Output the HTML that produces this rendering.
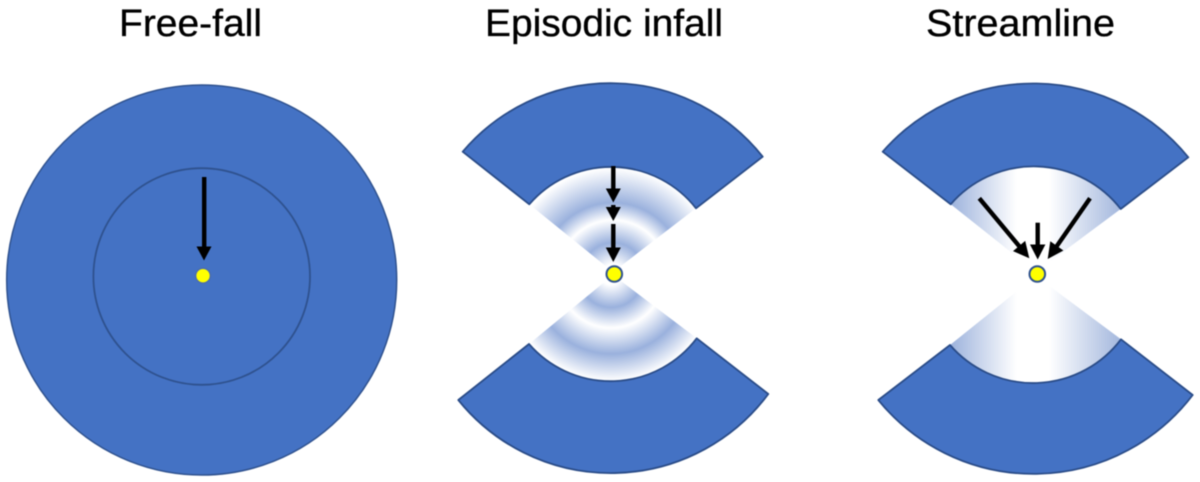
<!DOCTYPE html>
<html>
<head>
<meta charset="utf-8">
<style>
html,body{margin:0;padding:0;background:#fff;width:1200px;height:482px;overflow:hidden}
svg{display:block;filter:blur(0.5px)}
text{font-family:"Liberation Sans",sans-serif;font-size:38px;fill:#000;stroke:#000;stroke-width:0.35px}
</style>
</head>
<body>
<svg width="1200" height="482" viewBox="0 0 1200 482" xmlns="http://www.w3.org/2000/svg">
<defs>
<radialGradient id="ringsT" gradientUnits="userSpaceOnUse" cx="613" cy="274" r="108">
<stop offset="0.09" stop-color="#fff"/>
<stop offset="0.29" stop-color="#9ab1dd"/>
<stop offset="0.50" stop-color="#fff"/>
<stop offset="0.66" stop-color="#9ab1dd"/>
<stop offset="0.98" stop-color="#fff"/>
</radialGradient>
<radialGradient id="ringsB" gradientUnits="userSpaceOnUse" cx="611" cy="275" r="108">
<stop offset="0.09" stop-color="#fff"/>
<stop offset="0.30" stop-color="#9ab1dd"/>
<stop offset="0.49" stop-color="#fff"/>
<stop offset="0.73" stop-color="#9ab1dd"/>
<stop offset="0.98" stop-color="#fff"/>
</radialGradient>
<linearGradient id="stream" gradientUnits="userSpaceOnUse" x1="950" y1="0" x2="1121" y2="0">
<stop offset="0" stop-color="#9cb2dc"/>
<stop offset="0.39" stop-color="#fff"/>
<stop offset="0.58" stop-color="#fff"/>
<stop offset="1" stop-color="#a3b7dd"/>
</linearGradient>
</defs>

<text x="119" y="36" textLength="143" lengthAdjust="spacingAndGlyphs">Free-fall</text>
<text x="485" y="36" textLength="238" lengthAdjust="spacingAndGlyphs">Episodic infall</text>
<text x="926" y="36" textLength="189" lengthAdjust="spacingAndGlyphs">Streamline</text>

<!-- Free-fall -->
<circle cx="201.7" cy="280" r="195" fill="#4472c4" stroke="#2f528f" stroke-width="1.5"/>
<circle cx="201.7" cy="276.5" r="108.3" fill="none" stroke="#2f528f" stroke-width="1.8"/>
<rect x="202" y="177" width="4.4" height="72" fill="#000"/>
<polygon points="196.5,246.5 211.5,246.5 204,260.5" fill="#000"/>
<circle cx="203" cy="275.7" r="7.4" fill="#ffff00" stroke="#4a6cb0" stroke-width="1.5"/>

<!-- Episodic infall -->
<path d="M529.3 204.3 A108 108 0 0 1 696 208.3 L613 272 Z" fill="url(#ringsT)"/>
<path d="M529 344 A108 108 0 0 0 696.7 338.3 L613 275 Z" fill="url(#ringsB)"/>
<path d="M462.7 151.7 A194 194 0 0 1 762.7 156.7 L696 208.3 A108 108 0 0 0 529.3 204.3 Z" fill="#4472c4" stroke="#2a4c88" stroke-width="1.8" stroke-linejoin="round"/>
<path d="M458.3 400 A196 196 0 0 0 768.3 394 L696.7 338.3 A108 108 0 0 1 529 344 Z" fill="#4472c4" stroke="#2a4c88" stroke-width="1.8" stroke-linejoin="round"/>
<rect x="611.1" y="166" width="4.4" height="25" fill="#000"/>
<polygon points="605.8,188.5 620.8,188.5 613.3,202.5" fill="#000"/>
<rect x="611.1" y="205" width="4.4" height="4" fill="#000"/>
<polygon points="605.8,207 620.8,207 613.3,221" fill="#000"/>
<rect x="611.1" y="224" width="4.4" height="26" fill="#000"/>
<polygon points="605.8,247.5 620.8,247.5 613.3,262" fill="#000"/>
<circle cx="614.3" cy="274" r="7.8" fill="#ffff00" stroke="#2f528f" stroke-width="2"/>

<!-- Streamline -->
<path d="M1036 272 L950.7 204.3 A110 110 0 0 1 1120.7 209 Z" fill="url(#stream)"/>
<path d="M1036 276 L950 345 A110 110 0 0 0 1121 339.3 Z" fill="url(#stream)"/>
<path d="M882.7 151.7 A200 200 0 0 1 1188.3 157.3 L1120.7 209 A110 110 0 0 0 950.7 204.3 Z" fill="#4472c4" stroke="#2a4c88" stroke-width="1.8" stroke-linejoin="round"/>
<path d="M878.3 400 A200 200 0 0 0 1192.7 395 L1121 339.3 A110 110 0 0 1 950 345 Z" fill="#4472c4" stroke="#2a4c88" stroke-width="1.8" stroke-linejoin="round"/>
<line x1="979.3" y1="198.3" x2="1021" y2="248.3" stroke="#000" stroke-width="4.4"/>
<polygon points="1029.3,258.3 1013,251.1 1025.2,240.9" fill="#000"/>
<rect x="1035.5" y="222.7" width="4.4" height="24" fill="#000"/>
<polygon points="1030,244.5 1045.4,244.5 1037.7,259.5" fill="#000"/>
<line x1="1090" y1="198.3" x2="1056" y2="247.2" stroke="#000" stroke-width="4.4"/>
<polygon points="1047.7,259 1050.3,241.3 1063.4,250.5" fill="#000"/>
<circle cx="1037.3" cy="274" r="7.8" fill="#ffff00" stroke="#2f528f" stroke-width="2"/>
</svg>
</body>
</html>
